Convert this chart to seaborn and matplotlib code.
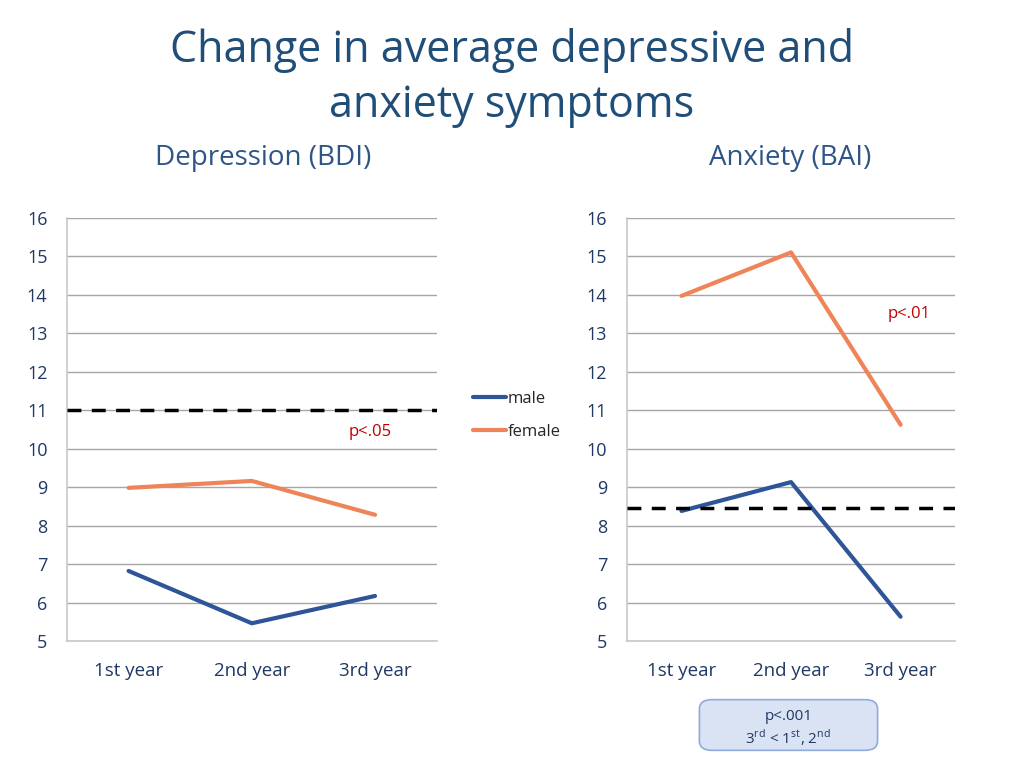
import pandas as pd
import matplotlib.pyplot as plt
import seaborn as sns
from matplotlib.patches import FancyBboxPatch
from matplotlib.lines import Line2D

# data
years = ['1st year', '2nd year', '3rd year']
bdi_male = [6.82, 5.46, 6.17]
bdi_female = [8.98, 9.16, 8.28]
bai_male = [8.38, 9.13, 5.63]
bai_female = [13.97, 15.10, 10.62]
bdi_cutoff = 11.0
bai_cutoff = 8.45
y_ticks = list(range(5, 17))

sns.set_theme(style='white')
plt.rcParams['font.family'] = ['Open Sans', 'DejaVu Sans']
plt.rcParams['mathtext.fontset'] = 'custom'
plt.rcParams['mathtext.rm'] = 'Open Sans'

navy = '#1F3864'
blue = '#2E5597'
orange = '#EE8458'
grid_c = '#A6A6A6'

def long_df(male, female):
    return pd.DataFrame({
        'year': years * 2,
        'score': male + female,
        'sex': ['male'] * 3 + ['female'] * 3,
    })

fig = plt.figure(figsize=(10.24, 7.68), dpi=100)
ax1 = fig.add_axes([0.0654, 0.1654, 0.361, 0.551])
ax2 = fig.add_axes([0.612, 0.1654, 0.321, 0.551])

palette = {'male': blue, 'female': orange}
for ax, male, female, cut in [(ax1, bdi_male, bdi_female, bdi_cutoff),
                               (ax2, bai_male, bai_female, bai_cutoff)]:
    df = long_df(male, female)
    sns.lineplot(data=df, x='year', y='score', hue='sex', palette=palette,
                 linewidth=3, ax=ax, legend=False, sort=False)
    ax.axhline(cut, color='black', linestyle=(0, (4, 3)), linewidth=2.5, zorder=3)
    ax.set_xlim(-0.5, 2.5)
    ax.set_ylim(5, 16)
    ax.set_yticks(y_ticks)
    ax.set_xticks([0, 1, 2])
    ax.set_xticklabels(years)
    ax.set_xticks([-0.5, 0.5, 1.5, 2.5], minor=True)
    ax.tick_params(axis='x', which='major', length=0, pad=15, labelsize=13.5, labelcolor=navy)
    ax.tick_params(axis='x', which='minor', length=5, color=grid_c, width=1, direction='out')
    ax.tick_params(axis='y', length=5, color=grid_c, width=1, direction='out',
                   pad=9, labelsize=13, labelcolor=navy)
    ax.yaxis.grid(True, color=grid_c, linewidth=1)
    for s in ['top', 'right']:
        ax.spines[s].set_visible(False)
    for s in ['left', 'bottom']:
        ax.spines[s].set_color('#C8C8C8')
        ax.spines[s].set_linewidth(1.2)
    ax.set_xlabel('')
    ax.set_ylabel('')
    ax.set_facecolor('white')

ax1.text(0.82, 0.495, 'p<.05', transform=ax1.transAxes, color='#C00000',
         fontsize=12, ha='center', va='center')
ax2.text(0.86, 0.772, 'p<.01', transform=ax2.transAxes, color='#C00000',
         fontsize=12, ha='center', va='center')

fig.text(0.5, 0.934, 'Change in average depressive and', ha='center', va='center',
         fontsize=31, color='#1F4E79')
fig.text(0.5, 0.862, 'anxiety symptoms', ha='center', va='center',
         fontsize=31, color='#1F4E79')
fig.text(0.257, 0.794, 'Depression (BDI)', ha='center', va='center',
         fontsize=20, color='#2F5587')
fig.text(0.772, 0.794, 'Anxiety (BAI)', ha='center', va='center',
         fontsize=20, color='#2F5587')

handles = [Line2D([], [], color=blue, linewidth=3),
           Line2D([], [], color=orange, linewidth=3)]
fig.legend(handles, ['male', 'female'], loc='center left',
           bbox_to_anchor=(0.447, 0.459), frameon=False, fontsize=12,
           handlelength=2.0, handletextpad=0.1, labelspacing=1.0)

box = FancyBboxPatch((0.683, 0.023), 0.174, 0.066, transform=fig.transFigure,
                     boxstyle='round,pad=0,rounding_size=0.012',
                     facecolor='#DAE3F3', edgecolor='#8FAADC', linewidth=1.2)
fig.patches.append(box)
fig.text(0.770, 0.067, 'p<.001', ha='center', va='center', fontsize=11, color=navy)
fig.text(0.770, 0.039, r'3$^{\rm rd}$ < 1$^{\rm st}$, 2$^{\rm nd}$',
         ha='center', va='center', fontsize=11, color=navy)

fig.savefig('out.png', dpi=100, facecolor='white')
